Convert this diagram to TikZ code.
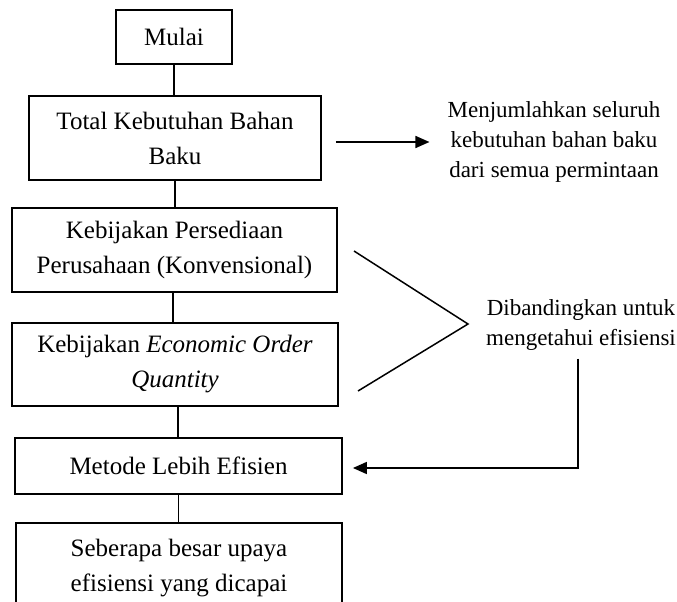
\documentclass[tikz,border=0pt]{standalone}
\usepackage{fontspec}
\setmainfont{Liberation Serif}
\usetikzlibrary{arrows.meta,positioning}
\tikzset{
  kotak/.style={draw, line width=1.8pt, align=center, inner sep=0pt,
    font=\fontsize{25}{35}\selectfont},
  catatan/.style={align=center, inner sep=0pt, font=\fontsize{23}{30}\selectfont},
  garis/.style={line width=1.5pt},
  panah/.style={line width=1.6pt, -{Triangle[length=14pt,width=12pt]}}
}

\begin{document}
\begin{tikzpicture}[x=1pt,y=-1pt]
\path[use as bounding box] (0,0) rectangle (677,602);
\clip (0,0) rectangle (677,602);

\node[kotak, minimum width=116pt, minimum height=54pt] (mulai) at (174,37) {Mulai};
\node[kotak, minimum width=292pt, minimum height=84pt] (total) at (175,138)
  {Total Kebutuhan Bahan\\Baku};
\node[kotak, minimum width=325pt, minimum height=84pt] (kebijakan) at (174.5,250)
  {Kebijakan Persediaan\\Perusahaan (Konvensional)};
\node[kotak, minimum width=326pt, minimum height=83pt] (eoq) at (175,364.5)
  {Kebijakan \textit{Economic Order}\\\textit{Quantity}};
\node[kotak, minimum width=327pt, minimum height=56pt] (metode) at (178.5,466)
  {Metode Lebih Efisien};
\node[kotak, minimum width=326pt, minimum height=90pt] (seberapa) at (179,568)
  {Seberapa besar upaya\\efisiensi yang dicapai};

\node[catatan, inner xsep=18pt] (jumlah) at (554,142)
  {Menjumlahkan seluruh\\kebutuhan bahan baku\\dari semua permintaan};
\node[catatan] (banding) at (581,325)
  {Dibandingkan untuk\\mengetahui efisiensi};

\draw[garis] (mulai.south) -- (mulai.south |- total.north);
\draw[garis] (total.south) -- (total.south |- kebijakan.north);
\draw[garis] ([xshift=-1.5pt]kebijakan.south) -- ([xshift=-1.5pt]kebijakan.south |- eoq.north);
\draw[garis] ([xshift=3pt]eoq.south) -- ([xshift=3pt]eoq.south |- metode.north);
\draw[garis] (metode.south) -- (metode.south |- seberapa.north);

\draw[panah] ([xshift=14pt]total.east |- jumlah.west) -- (jumlah.west);

\coordinate (atas) at (354,251);
\coordinate (ujung) at (468,324);
\coordinate (bawah) at (358,391);
\draw[garis] (atas) -- (ujung) -- (bawah);

\draw[panah] ([xshift=-3pt,yshift=-8pt]banding.south) |- ([xshift=10pt,yshift=-2pt]metode.east);

\end{tikzpicture}
\end{document}
